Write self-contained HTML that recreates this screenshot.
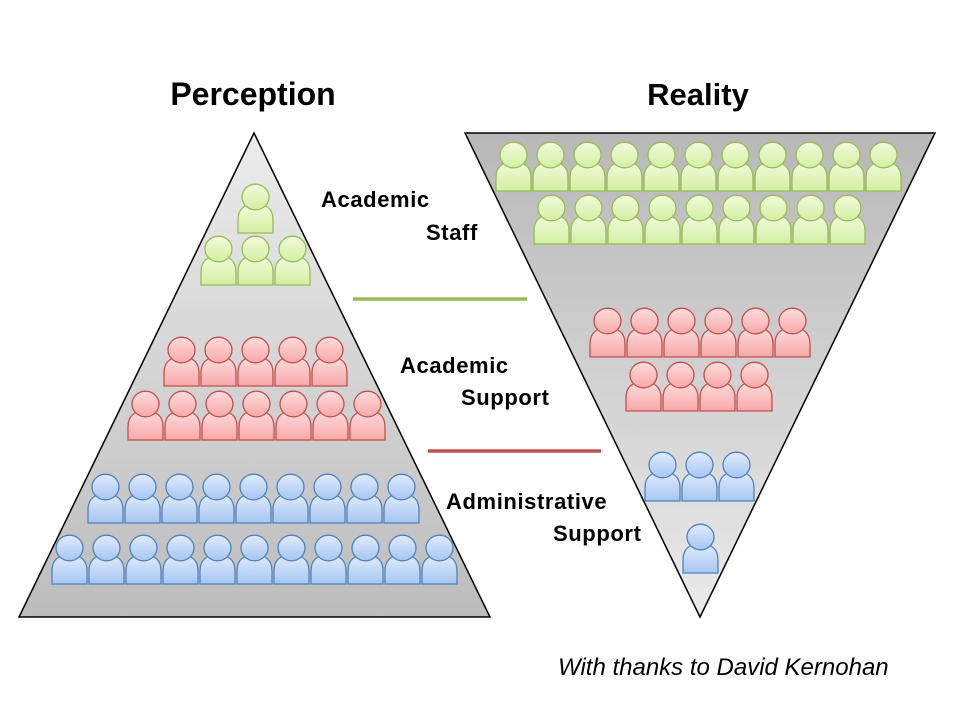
<!DOCTYPE html>
<html><head><meta charset="utf-8"><style>
html,body{margin:0;padding:0;background:#fff;}
svg{display:block;}
text{font-family:"Liberation Sans",sans-serif;font-weight:bold;fill:#000;}
</style></head><body>
<svg id="s" width="960" height="720" viewBox="0 0 960 720" xmlns="http://www.w3.org/2000/svg">
<defs>
<linearGradient id="gl" x1="0" y1="0" x2="0" y2="1"><stop offset="0" stop-color="#ececec"/><stop offset="1" stop-color="#bcbcbc"/></linearGradient>
<linearGradient id="gr" x1="0" y1="0" x2="0" y2="1"><stop offset="0" stop-color="#b8b8b8"/><stop offset="1" stop-color="#eaeaea"/></linearGradient>
<linearGradient id="gg" x1="0" y1="0" x2="0" y2="1"><stop offset="0" stop-color="#f2fbdc"/><stop offset="1" stop-color="#d2efa2"/></linearGradient>
<linearGradient id="rg" x1="0" y1="0" x2="0" y2="1"><stop offset="0" stop-color="#ffdcdc"/><stop offset="1" stop-color="#f7a8a8"/></linearGradient>
<linearGradient id="bg" x1="0" y1="0" x2="0" y2="1"><stop offset="0" stop-color="#e0ebfc"/><stop offset="1" stop-color="#a6c6f2"/></linearGradient>
<path id="body" d="M1 50V37C1 25 8 21 18.5 21C29 21 36 25 36 37V50Z"/>
<symbol id="pg" viewBox="0 0 37 51"><use href="#body" fill="url(#gg)" stroke="#98bb55" stroke-width="1.3"/><ellipse cx="18.5" cy="14" rx="13.5" ry="12.8" fill="url(#gg)" stroke="#98bb55" stroke-width="1.3"/></symbol>
<symbol id="pr" viewBox="0 0 37 51"><use href="#body" fill="url(#rg)" stroke="#c0504d" stroke-width="1.3"/><ellipse cx="18.5" cy="14" rx="13.5" ry="12.8" fill="url(#rg)" stroke="#c0504d" stroke-width="1.3"/></symbol>
<symbol id="pb" viewBox="0 0 37 51"><use href="#body" fill="url(#bg)" stroke="#4f81bd" stroke-width="1.3"/><ellipse cx="18.5" cy="14" rx="13.5" ry="12.8" fill="url(#bg)" stroke="#4f81bd" stroke-width="1.3"/></symbol>
</defs>
<polygon points="254,133 19,617 490,617" fill="url(#gl)" stroke="#000" stroke-width="1.5"/>
<polygon points="465,133 935,133 700,617" fill="url(#gr)" stroke="#000" stroke-width="1.5"/>
<line x1="353" y1="299" x2="527" y2="299" stroke="#9bbb59" stroke-width="3.5"/>
<line x1="428" y1="451" x2="601" y2="451" stroke="#c0504d" stroke-width="3.5"/>
<text x="253" y="105" font-size="32" text-anchor="middle">Perception</text>
<text x="698" y="105" font-size="31" text-anchor="middle">Reality</text>
<g font-size="22" letter-spacing="0.6">
<text x="321" y="207">Academic</text>
<text x="426" y="240">Staff</text>
<text x="400" y="373">Academic</text>
<text x="461" y="405">Support</text>
<text x="446" y="509">Administrative</text>
<text x="553" y="541">Support</text>
</g>
<text x="558" y="675" font-size="24" style="font-weight:normal;font-style:italic">With thanks to David Kernohan</text>
<g id="people"></g>
</svg>
<script>
var rows=[["pg",237,183,1],["pg",200,235,3],["pr",163,336,5],["pr",127,390,7],["pb",87,473,9],["pb",51,534,11],
["pg",495,141,11],["pg",533,194,9],["pr",589,307,6],["pr",625,361,4],["pb",644,451,3],["pb",682,523,1]];
var g=document.getElementById("people"),h="";
rows.forEach(function(r){for(var i=0;i<r[3];i++){h+='<use href="#'+r[0]+'" x="'+(r[1]+i*37)+'" y="'+r[2]+'" width="37" height="51"/>';}});
g.innerHTML=h;
</script>
</body></html>
